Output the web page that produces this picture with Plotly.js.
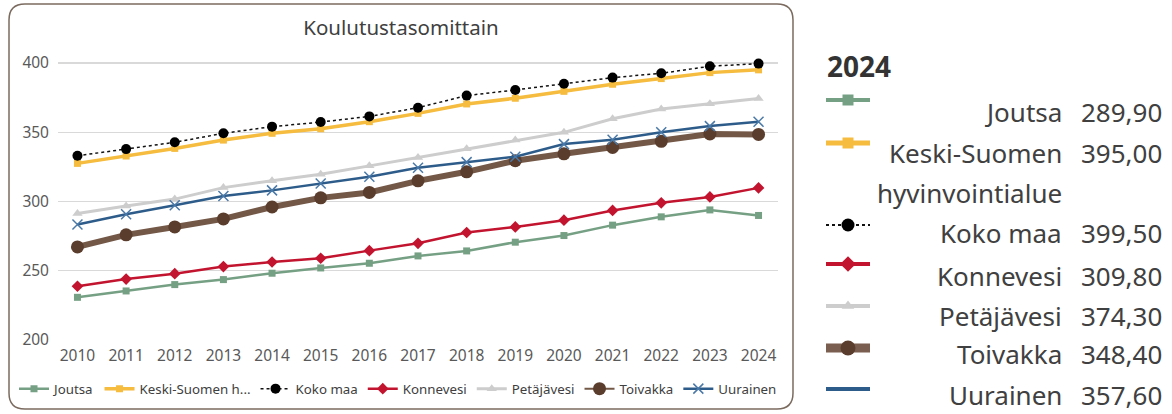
<!DOCTYPE html>
<html>
<head>
<meta charset="utf-8">
<script src="https://cdn.plot.ly/plotly-3.0.1.min.js"></script>
<style>
html,body{margin:0;padding:0;background:#fff;}
#chart{width:1172px;height:414px;}
</style>
</head>
<body>
<div id="chart"></div>
<script>
// ---- data ----
const years = [2010, 2011, 2012, 2013, 2014, 2015, 2016, 2017, 2018, 2019, 2020, 2021, 2022, 2023, 2024];
const seriesNames = ["Joutsa", "Keski-Suomen hyvinvointialue", "Koko maa", "Konnevesi", "Petäjävesi", "Toivakka", "Uurainen"];
const legendLabels = ["Joutsa", "Keski-Suomen h...", "Koko maa", "Konnevesi", "Petäjävesi", "Toivakka", "Uurainen"];
const joutsa     = [230.8, 235.4, 240.0, 243.6, 248.2, 252.0, 255.4, 260.7, 264.3, 270.6, 275.4, 282.9, 288.9, 293.9, 289.9];
const keskiSuomi = [327.5, 332.8, 338.3, 344.3, 349.2, 352.5, 357.6, 363.6, 370.4, 374.5, 379.5, 384.6, 388.7, 393.0, 395.0];
const kokoMaa    = [333.0, 337.8, 342.7, 349.2, 354.0, 357.3, 361.4, 367.7, 376.4, 380.5, 385.0, 389.4, 392.5, 397.6, 399.5];
const konnevesi  = [238.8, 244.0, 247.9, 253.0, 256.3, 259.0, 264.5, 269.8, 277.6, 281.6, 286.5, 293.5, 299.0, 303.3, 309.8];
const petajavesi = [291.3, 296.8, 301.7, 310.0, 314.9, 319.7, 325.7, 331.8, 338.0, 344.3, 349.9, 359.7, 366.7, 370.6, 374.3];
const toivakka   = [267.2, 275.9, 281.6, 287.4, 296.0, 302.6, 306.5, 314.9, 321.4, 329.4, 334.4, 339.0, 343.4, 348.7, 348.4];
const uurainen   = [283.4, 290.8, 297.3, 304.0, 308.0, 313.0, 317.8, 324.3, 328.4, 332.3, 341.4, 344.5, 349.9, 354.4, 357.6];
const seriesValues = [joutsa, keskiSuomi, kokoMaa, konnevesi, petajavesi, toivakka, uurainen];
const yTicks = [200, 250, 300, 350, 400];

// ---- styles ----
const W = 1172, H = 414;
const FONT = '"Segoe UI", "Noto Sans", "Open Sans", sans-serif';
const styles = [
  {line:{color:'#76A084', width:2.5}, marker:{symbol:'square', size:7, color:'#76A084'}, icon:{size:11, width:4}},
  {line:{color:'#F5BC3F', width:3.5}, marker:{symbol:'square', size:7, color:'#F5BC3F'}, icon:{size:11, width:5}},
  {line:{color:'#111111', width:1.5, dash:'dot'}, marker:{symbol:'circle', size:10, color:'#000000'}, icon:{size:13, width:2}},
  {line:{color:'#C3142F', width:2.5}, marker:{symbol:'diamond', size:9, color:'#C3142F'}, icon:{size:12, width:4}},
  {line:{color:'#CDCDCD', width:3}, marker:{symbol:'triangle-up', size:9, color:'#CDCDCD'}, icon:{size:11, width:4}},
  {line:{color:'#735747', width:6}, marker:{symbol:'circle', size:13, color:'#5A3D2D'}, icon:{size:15, width:9}, legendLine:2},
  {line:{color:'#2E5C8A', width:2.5}, marker:{symbol:'x-thin-open', size:10, color:'#4A79A8', line:{width:1.5, color:'#4A79A8'}}, icon:{size:0, width:4}}
];
const textRowY = [112, 153, 233, 276, 316, 354, 395];
const iconRowY = [100, 143, 225, 264, 306, 348, 389];

const traces = [];
seriesValues.forEach((vals, i) => {
  const s = styles[i];
  const thinLegend = !!s.legendLine;
  traces.push({
    type:'scatter', mode:'lines+markers', x: years, y: vals,
    name: legendLabels[i], line: s.line, marker: s.marker,
    xaxis:'x', yaxis:'y', hoverinfo:'x+y+name',
    showlegend: !thinLegend, legendrank: (i + 1) * 10
  });
  if (thinLegend) {
    // legend-only entry drawn with a thinner line, as in the reference legend
    traces.push({
      type:'scatter', mode:'lines+markers', x:[null], y:[null],
      name: legendLabels[i], line: Object.assign({}, s.line, {width: s.legendLine}),
      marker: s.marker, xaxis:'x', yaxis:'y', showlegend:true, legendrank:(i + 1) * 10, hoverinfo:'skip'
    });
  }
});
// right-hand panel icons
seriesValues.forEach((vals, i) => {
  const s = styles[i];
  const iconLine = Object.assign({}, s.line, {width: s.icon.width});
  if (i === 5) iconLine.color = '#7A5E4F';
  traces.push({
    type:'scatter', mode:'lines+markers', x:[826, 848, 870], y:[iconRowY[i], iconRowY[i], iconRowY[i]],
    line: iconLine,
    marker: Object.assign({}, s.marker, {size:[0, s.icon.size, 0], opacity:1, line: s.marker.line || {width:0}}),
    xaxis:'x2', yaxis:'y2', showlegend:false, hoverinfo:'skip'
  });
});

const fmt = v => v.toFixed(2).replace('.', ',');
const annotations = [{
  xref:'x2', yref:'y2', x:825, y:66, text:'<b>2024</b>', showarrow:false,
  xanchor:'left', yanchor:'middle', font:{family:FONT, size:28, color:'#333333'}
}];
seriesNames.forEach((nm, i) => {
  const lines = nm.length > 16 ? nm.split(' ') : [nm];
  lines.forEach((ln, k) => {
    annotations.push({xref:'x2', yref:'y2', x:1064, y:textRowY[i] + k*40, text:ln, showarrow:false,
      xanchor:'right', yanchor:'middle', font:{family:FONT, size:26, color:'#404040'}});
  });
  const v = seriesValues[i][seriesValues[i].length - 1];
  annotations.push({xref:'x2', yref:'y2', x:1164, y:textRowY[i], text:fmt(v), showarrow:false,
    xanchor:'right', yanchor:'middle', font:{family:FONT, size:26, color:'#404040'}});
});

// rounded frame in paper coordinates (margins are 0, so paper == container)
function framePath(l, t, r, b, rad) {
  const X = v => (v / W).toFixed(5), Y = v => (1 - v / H).toFixed(5);
  return `M ${X(l+rad)},${Y(t)} L ${X(r-rad)},${Y(t)} Q ${X(r)},${Y(t)} ${X(r)},${Y(t+rad)} ` +
         `L ${X(r)},${Y(b-rad)} Q ${X(r)},${Y(b)} ${X(r-rad)},${Y(b)} ` +
         `L ${X(l+rad)},${Y(b)} Q ${X(l)},${Y(b)} ${X(l)},${Y(b-rad)} ` +
         `L ${X(l)},${Y(t+rad)} Q ${X(l)},${Y(t)} ${X(l+rad)},${Y(t)} Z`;
}

const layout = {
  width: W, height: H,
  margin:{l:0, r:0, t:0, b:0},
  paper_bgcolor:'#ffffff', plot_bgcolor:'rgba(0,0,0,0)',
  font:{family:FONT, color:'#595959'},
  title:{text:'Koulutustasomittain', x:401/W, xref:'container', xanchor:'center',
         y:1 - 28/H, yref:'container', yanchor:'middle', font:{family:FONT, size:20.5, color:'#404040'}},
  xaxis:{domain:[58/W, 778/W], range:[2009.6, 2024.4], tickvals: years, ticktext: years.map(String),
         showgrid:false, zeroline:false, showline:false, ticks:'', anchor:'y', ticklabelstandoff:4,
         tickfont:{family:FONT, size:15.5, color:'#595959'}},
  yaxis:{domain:[74/H, 358/H], range:[200, 405], tickvals: yTicks, showgrid:true, gridcolor:'#D9D9D9', gridwidth:1.3,
         zeroline:false, showline:false, ticks:'', anchor:'x', ticklabelstandoff:8,
         tickfont:{family:FONT, size:15.5, color:'#595959'}},
  xaxis2:{domain:[800/W, 1], range:[800, 1172], visible:false, anchor:'y2', fixedrange:true},
  yaxis2:{domain:[0, 1], range:[414, 0], visible:false, anchor:'x2', fixedrange:true},
  showlegend:true,
  legend:{orientation:'h', x:14/W, xanchor:'left', y:1 - 389/H, yanchor:'middle', traceorder:'normal',
          font:{family:FONT, size:13.3, color:'#404040'}, bgcolor:'rgba(0,0,0,0)', itemwidth:30},
  shapes:[{type:'path', xref:'paper', yref:'paper', path: framePath(9, 4, 793, 409, 16),
           line:{color:'#7B6B5F', width:1.5}, fillcolor:'rgba(0,0,0,0)', layer:'below'}],
  annotations: annotations
};

Plotly.newPlot('chart', traces, layout, {displayModeBar:false, staticPlot:true});
</script>
</body>
</html>
